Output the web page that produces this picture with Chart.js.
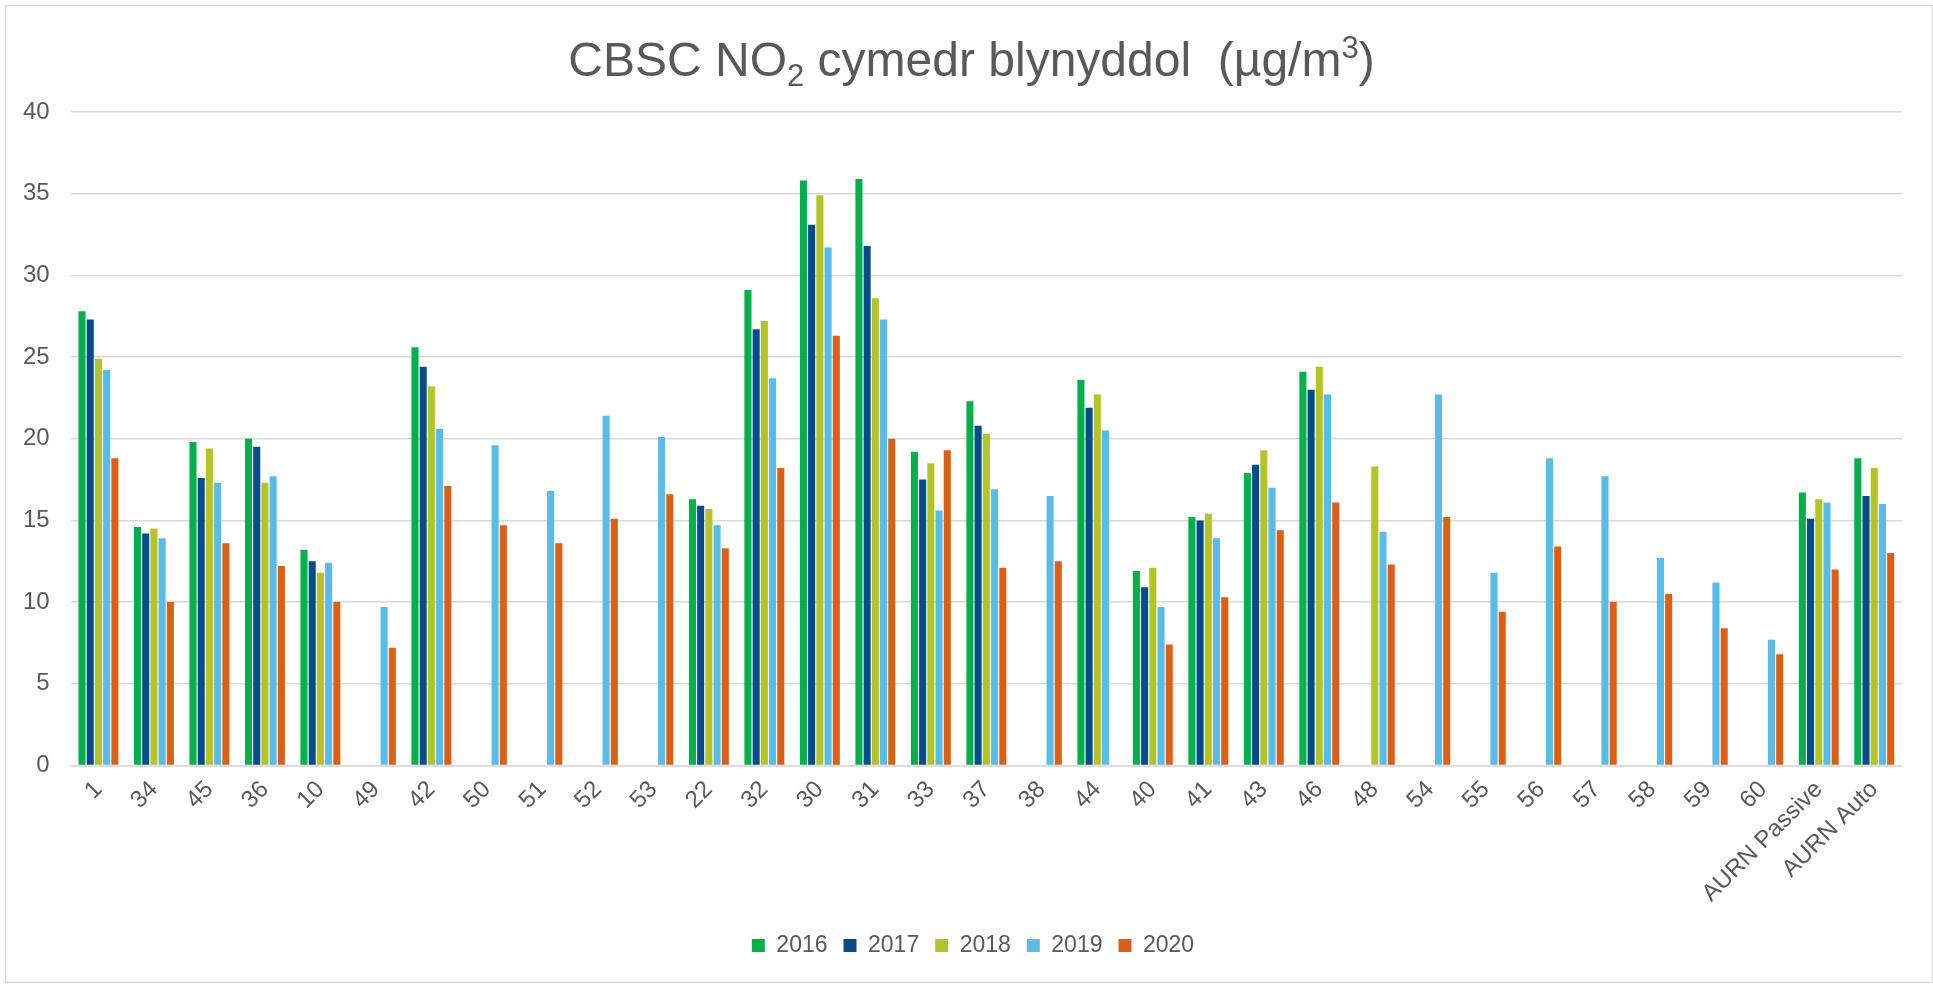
<!DOCTYPE html>
<html>
<head>
<meta charset="utf-8">
<script src="https://cdn.jsdelivr.net/npm/chart.js@4"></script>
<style>
  html,body{margin:0;padding:0;background:#fff;}
  #wrap{width:1933px;height:985px;position:relative;}
</style>
</head>
<body>
<div id="wrap"><canvas id="no2Chart"></canvas></div>
<script>
// safleoedd (x-axis categories)
const sites = ['1','34','45','36','10','49','42','50','51','52','53','22','32','30','31','33','37','38','44','40','41','43','46','48','54','55','56','57','58','59','60','AURN Passive','AURN Auto'];
const years = ['2016','2017','2018','2019','2020'];
const yearColors = ['#00b04a','#054d8a','#b4c427','#57bce8','#dc5f16'];

// annual means, µg/m3 (null = no data that year)
const v2016 = [27.8,14.6,19.8,20.0,13.2,null,25.6,null,null,null,null,16.3,29.1,35.8,35.9,19.2,22.3,null,23.6,11.9,15.2,17.9,24.1,null,null,null,null,null,null,null,null,16.7,18.8];
const v2017 = [27.3,14.2,17.6,19.5,12.5,null,24.4,null,null,null,null,15.9,26.7,33.1,31.8,17.5,20.8,null,21.9,10.9,15.0,18.4,23.0,null,null,null,null,null,null,null,null,15.1,16.5];
const v2018 = [24.9,14.5,19.4,17.3,11.8,null,23.2,null,null,null,null,15.7,27.2,34.9,28.6,18.5,20.3,null,22.7,12.1,15.4,19.3,24.4,18.3,null,null,null,null,null,null,null,16.3,18.2];
const v2019 = [24.2,13.9,17.3,17.7,12.4,9.7,20.6,19.6,16.8,21.4,20.1,14.7,23.7,31.7,27.3,15.6,16.9,16.5,20.5,9.7,13.9,17.0,22.7,14.3,22.7,11.8,18.8,17.7,12.7,11.2,7.7,16.1,16.0];
const v2020 = [18.8,10.0,13.6,12.2,10.0,7.2,17.1,14.7,13.6,15.1,16.6,13.3,18.2,26.3,20.0,19.3,12.1,12.5,null,7.4,10.3,14.4,16.1,12.3,15.2,9.4,13.4,10.0,10.5,8.4,6.8,12.0,13.0];

const yMin = 0, yMax = 40, yStep = 5;
const TXT = '#595959';
const GRID = '#d9d9d9';
const FONT = '"Liberation Sans", Arial, sans-serif';

// title with real sub/superscript, plus the chart-area frame
const titleFrame = {
  id:'titleFrame',
  afterLayout(chart){
    // excel centres the legend a bit right of the plot centre
    if(chart.legend){ chart.legend.left += 21; chart.legend.right += 21; }
  },
  beforeDraw(chart){
    const c = chart.ctx;
    c.save();
    c.strokeStyle = GRID; c.lineWidth = 1.5;
    c.strokeRect(5.5, 5.5, chart.width - 6, chart.height - 8);
    c.restore();
  },
  afterDraw(chart){
    const c = chart.ctx;
    const big = '48px ' + FONT, small = '31px ' + FONT;
    const parts = [
      {t:'CBSC NO', f:big, dy:0},
      {t:'2', f:small, dy:10},
      {t:' cymedr blynyddol  (µg/m', f:big, dy:0},
      {t:'3', f:small, dy:-18},
      {t:')', f:big, dy:0}
    ];
    c.save();
    let w = 0;
    parts.forEach(p=>{ c.font = p.f; p.w = c.measureText(p.t).width; w += p.w; });
    let x = chart.width/2 + 5 - w/2;
    const base = 76;
    c.fillStyle = TXT; c.textBaseline = 'alphabetic'; c.textAlign = 'left';
    parts.forEach(p=>{ c.font = p.f; c.fillText(p.t, x, base + p.dy); x += p.w; });
    c.restore();
  }
};

const series = [v2016,v2017,v2018,v2019,v2020];
const datasets = years.map((y,i)=>({
  label:y, data:series[i], backgroundColor:yearColors[i], borderWidth:0,
  categoryPercentage:0.74, barPercentage:0.86
}));

new Chart(document.getElementById('no2Chart').getContext('2d'),{
  type:'bar',
  data:{labels:sites, datasets},
  plugins:[titleFrame],
  options:{
    responsive:true, maintainAspectRatio:false, animation:false,
    layout:{padding:{left:2,right:31,top:112,bottom:18}},
    plugins:{
      title:{display:false},
      tooltip:{enabled:false},
      legend:{
        position:'bottom',
        labels:{boxWidth:13,boxHeight:13,padding:16,color:TXT,font:{family:FONT,size:23}}
      }
    },
    scales:{
      x:{
        grid:{display:false,drawTicks:false},
        border:{display:true,color:GRID,width:1.5},
        ticks:{color:TXT,font:{family:FONT,size:24},minRotation:45,maxRotation:45,padding:10,autoSkip:false}
      },
      y:{
        min:yMin,max:yMax,
        grid:{color:GRID,lineWidth:1.5,drawTicks:false},
        border:{display:false},
        ticks:{stepSize:yStep,color:TXT,font:{family:FONT,size:24},padding:21}
      }
    }
  }
});
</script>
</body>
</html>
